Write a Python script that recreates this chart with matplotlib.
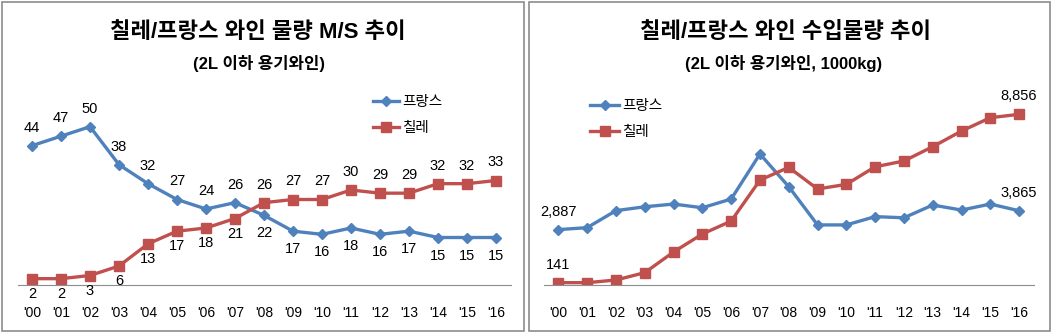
import matplotlib
matplotlib.use('Agg')
import matplotlib.pyplot as plt
from matplotlib.patches import Rectangle

plt.rcParams['font.family'] = ['Liberation Sans', 'Noto Sans CJK KR', 'DejaVu Sans']

years = ["'00", "'01", "'02", "'03", "'04", "'05", "'06", "'07", "'08",
         "'09", "'10", "'11", "'12", "'13", "'14", "'15", "'16"]

# market share (%)
ms_france = [44, 47, 50, 38, 32, 27, 24, 26, 22, 17, 16, 18, 16, 17, 15, 15, 15]
ms_chile = [2, 2, 3, 6, 13, 17, 18, 21, 26, 27, 27, 30, 29, 29, 32, 32, 33]

# import volume (1000kg)
vol_france = [2887, 2990, 3870, 4070, 4210, 4020, 4470, 6800, 5110,
              3130, 3130, 3560, 3500, 4160, 3900, 4210, 3865]
vol_chile = [141, 141, 280, 660, 1730, 2660, 3330, 5450, 6110,
             4990, 5230, 6140, 6440, 7180, 7990, 8680, 8856]

blue = '#4F81BD'
red = '#C0504D'

W, H = 1053, 335
fig = plt.figure(figsize=(W / 100, H / 100), dpi=100)

def fx(px):
    return px / W

def fy(py):
    return 1 - py / H

# panel frames
for x0, x1 in [(2, 524), (529, 1050)]:
    fig.patches.append(Rectangle((fx(x0), fy(331)), fx(x1 - x0), (331 - 2) / H,
                                 transform=fig.transFigure, fill=False,
                                 edgecolor='#8c8c8c', lw=1.2))

def style_axis(ax, n):
    ax.set_xlim(-0.5, n - 0.5)
    ax.set_xticks(range(n))
    ax.set_xticklabels(years, fontsize=10)
    ax.set_yticks([])
    for s in ['top', 'right', 'left']:
        ax.spines[s].set_visible(False)
    ax.spines['bottom'].set_color('#8c8c8c')
    ax.tick_params(axis='x', length=0, pad=15)
    ax.patch.set_alpha(0)

line_kw = dict(lw=2.4)

# ---- left chart: M/S
ax1 = fig.add_axes([fx(17.5), fy(285), fx(493), (285 - 95) / H])
x = list(range(len(years)))
ax1.plot(x, ms_france, color=blue, marker='D', ms=5.5, label='프랑스', **line_kw)
ax1.plot(x, ms_chile, color=red, marker='s', ms=7, label='칠레', **line_kw)
ax1.set_ylim(0, 60)
style_axis(ax1, len(years))

for i, (f, c) in enumerate(zip(ms_france, ms_chile)):
    f_up = f >= c
    ax1.annotate(str(f), (i, f), xytext=(0, 13 if f_up else -13), textcoords='offset points',
                 ha='center', va='center', fontsize=10.5)
    ax1.annotate(str(c), (i, c), xytext=(0, -11 if f_up else 13), textcoords='offset points',
                 ha='center', va='center', fontsize=10.5)

ax1.legend(loc='upper left', bbox_to_anchor=(fx(373), fy(95)), bbox_transform=fig.transFigure,
           frameon=False, fontsize=10.5, borderpad=0, borderaxespad=0,
           handlelength=1.8, handletextpad=0.2, labelspacing=0.8)

fig.text(fx(258), fy(32), '칠레/프랑스 와인 물량 M/S 추이', ha='center', va='center',
         fontsize=16, fontweight='bold')
fig.text(fx(259), fy(63), '(2L 이하 용기와인)', ha='center', va='center',
         fontsize=12, fontweight='bold')

# ---- right chart: volume
ax2 = fig.add_axes([fx(544), fy(285.4), fx(489.5), (285.4 - 92.2) / H])
ax2.plot(x, vol_france, color=blue, marker='D', ms=5.5, label='프랑스', **line_kw)
ax2.plot(x, vol_chile, color=red, marker='s', ms=7, label='칠레', **line_kw)
ax2.set_ylim(0, 10000)
style_axis(ax2, len(years))

for i in [0, len(years) - 1]:
    for v in (vol_france[i], vol_chile[i]):
        ax2.annotate(f'{v:,}', (i, v), xytext=(0, 13), textcoords='offset points',
                     ha='center', va='center', fontsize=10.5)

ax2.legend(loc='upper left', bbox_to_anchor=(fx(590), fy(99)), bbox_transform=fig.transFigure,
           frameon=False, fontsize=10.5, borderpad=0, borderaxespad=0,
           handlelength=2.0, handletextpad=0.2, labelspacing=0.8)

fig.text(fx(785), fy(32), '칠레/프랑스 와인 수입물량 추이', ha='center', va='center',
         fontsize=16, fontweight='bold')
fig.text(fx(784), fy(64), '(2L 이하 용기와인, 1000kg)', ha='center', va='center',
         fontsize=12, fontweight='bold')

fig.savefig('out.png', dpi=100)
